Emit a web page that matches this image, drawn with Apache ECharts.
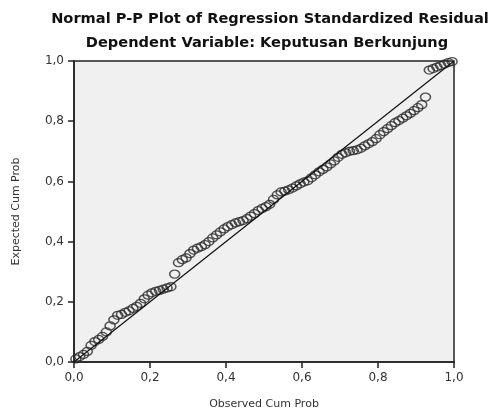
<!DOCTYPE html>
<html>
<head>
<meta charset="utf-8">
<script src="https://cdn.jsdelivr.net/npm/echarts@6/dist/echarts.min.js"></script>
<style>
html,body{margin:0;padding:0;background:#fff;}
#chart{width:493px;height:415px;}
</style>
</head>
<body>
<div id="chart"></div>
<script>
var titleLine1 = "Normal P-P Plot of Regression Standardized Residual";
var titleLine2 = "Dependent Variable: Keputusan Berkunjung";
var xAxisName = "Observed Cum Prob";
var yAxisName = "Expected Cum Prob";
var tickValues = [0, 0.2, 0.4, 0.6, 0.8, 1.0];

var observedCumProb = [
0.005,0.015,0.025,0.035,0.045,0.055,0.065,0.075,0.085,0.095,
0.105,0.115,0.125,0.135,0.145,0.155,0.165,0.175,0.185,0.195,
0.205,0.215,0.225,0.235,0.245,0.255,0.265,0.275,0.285,0.295,
0.305,0.315,0.325,0.335,0.345,0.355,0.365,0.375,0.385,0.395,
0.405,0.415,0.425,0.435,0.445,0.455,0.465,0.475,0.485,0.495,
0.505,0.515,0.525,0.535,0.545,0.555,0.565,0.575,0.585,0.595,
0.605,0.615,0.625,0.635,0.645,0.655,0.665,0.675,0.685,0.695,
0.705,0.715,0.725,0.735,0.745,0.755,0.765,0.775,0.785,0.795,
0.805,0.815,0.825,0.835,0.845,0.855,0.865,0.875,0.885,0.895,
0.905,0.915,0.925,0.935,0.945,0.955,0.965,0.975,0.985,0.995
];
var expectedCumProb = [
0.010,0.018,0.025,0.035,0.055,0.068,0.075,0.085,0.100,0.120,
0.140,0.155,0.158,0.165,0.170,0.178,0.185,0.195,0.210,0.222,
0.230,0.235,0.238,0.242,0.246,0.250,0.292,0.330,0.340,0.346,
0.360,0.372,0.378,0.383,0.390,0.400,0.412,0.422,0.432,0.442,
0.450,0.456,0.462,0.466,0.470,0.476,0.485,0.493,0.503,0.510,
0.516,0.524,0.540,0.555,0.565,0.568,0.572,0.578,0.585,0.592,
0.598,0.602,0.612,0.622,0.632,0.640,0.648,0.658,0.668,0.680,
0.690,0.695,0.700,0.702,0.705,0.710,0.718,0.725,0.732,0.742,
0.755,0.765,0.775,0.785,0.795,0.802,0.810,0.818,0.826,0.835,
0.845,0.855,0.880,0.970,0.975,0.980,0.985,0.990,0.995,0.998
];
var referenceLineX = [0, 1];
var referenceLineY = [0, 1];

var points = observedCumProb.map(function (x, i) { return [x, expectedCumProb[i]]; });
var linePts = referenceLineX.map(function (x, i) { return [x, referenceLineY[i]]; });

function fmt(v) { return v.toFixed(1).replace('.', ','); }

var chart = echarts.init(document.getElementById('chart'), null, {renderer: 'canvas'});
var axisCommon = {
  type: 'value', min: 0, max: 1, interval: 0.2,
  splitLine: {show: false},
  axisLine: {show: true, lineStyle: {color: '#222', width: 1.5}},
  axisTick: {show: true, inside: false, length: 6, lineStyle: {color: '#222', width: 1.5}},
  axisLabel: {color: '#333', fontFamily: 'DejaVu Sans', fontSize: 12, formatter: fmt},
  nameLocation: 'middle',
  nameTextStyle: {color: '#333', fontFamily: 'DejaVu Sans', fontSize: 11}
};
chart.setOption({
  animation: false,
  backgroundColor: '#ffffff',
  grid: {left: 74, right: 39, top: 61, bottom: 48, show: true, backgroundColor: '#f0f0f0', borderColor: '#222', borderWidth: 1.5},
  graphic: [
    {type: 'text', x: 270, y: 12, style: {text: titleLine1, font: 'bold 14.6px "DejaVu Sans"', fill: '#111', align: 'center', verticalAlign: 'top'}},
    {type: 'text', x: 267, y: 36, style: {text: titleLine2, font: 'bold 14.6px "DejaVu Sans"', fill: '#111', align: 'center', verticalAlign: 'top'}}
  ],
  xAxis: Object.assign({}, axisCommon, {name: xAxisName, nameGap: 37, axisLabel: Object.assign({}, axisCommon.axisLabel, {margin: 10})}),
  yAxis: Object.assign({}, axisCommon, {name: yAxisName, nameGap: 52, axisLabel: Object.assign({}, axisCommon.axisLabel, {margin: 10})}),
  series: [
    {type: 'scatter', data: points, symbol: 'circle', symbolSize: [10, 8],
     itemStyle: {color: 'rgba(0,0,0,0)', borderColor: '#2a2a2a', borderWidth: 1.4}},
    {type: 'line', data: linePts, symbol: 'none', lineStyle: {color: '#111', width: 1.2}, z: 3}
  ]
});
</script>
</body>
</html>
